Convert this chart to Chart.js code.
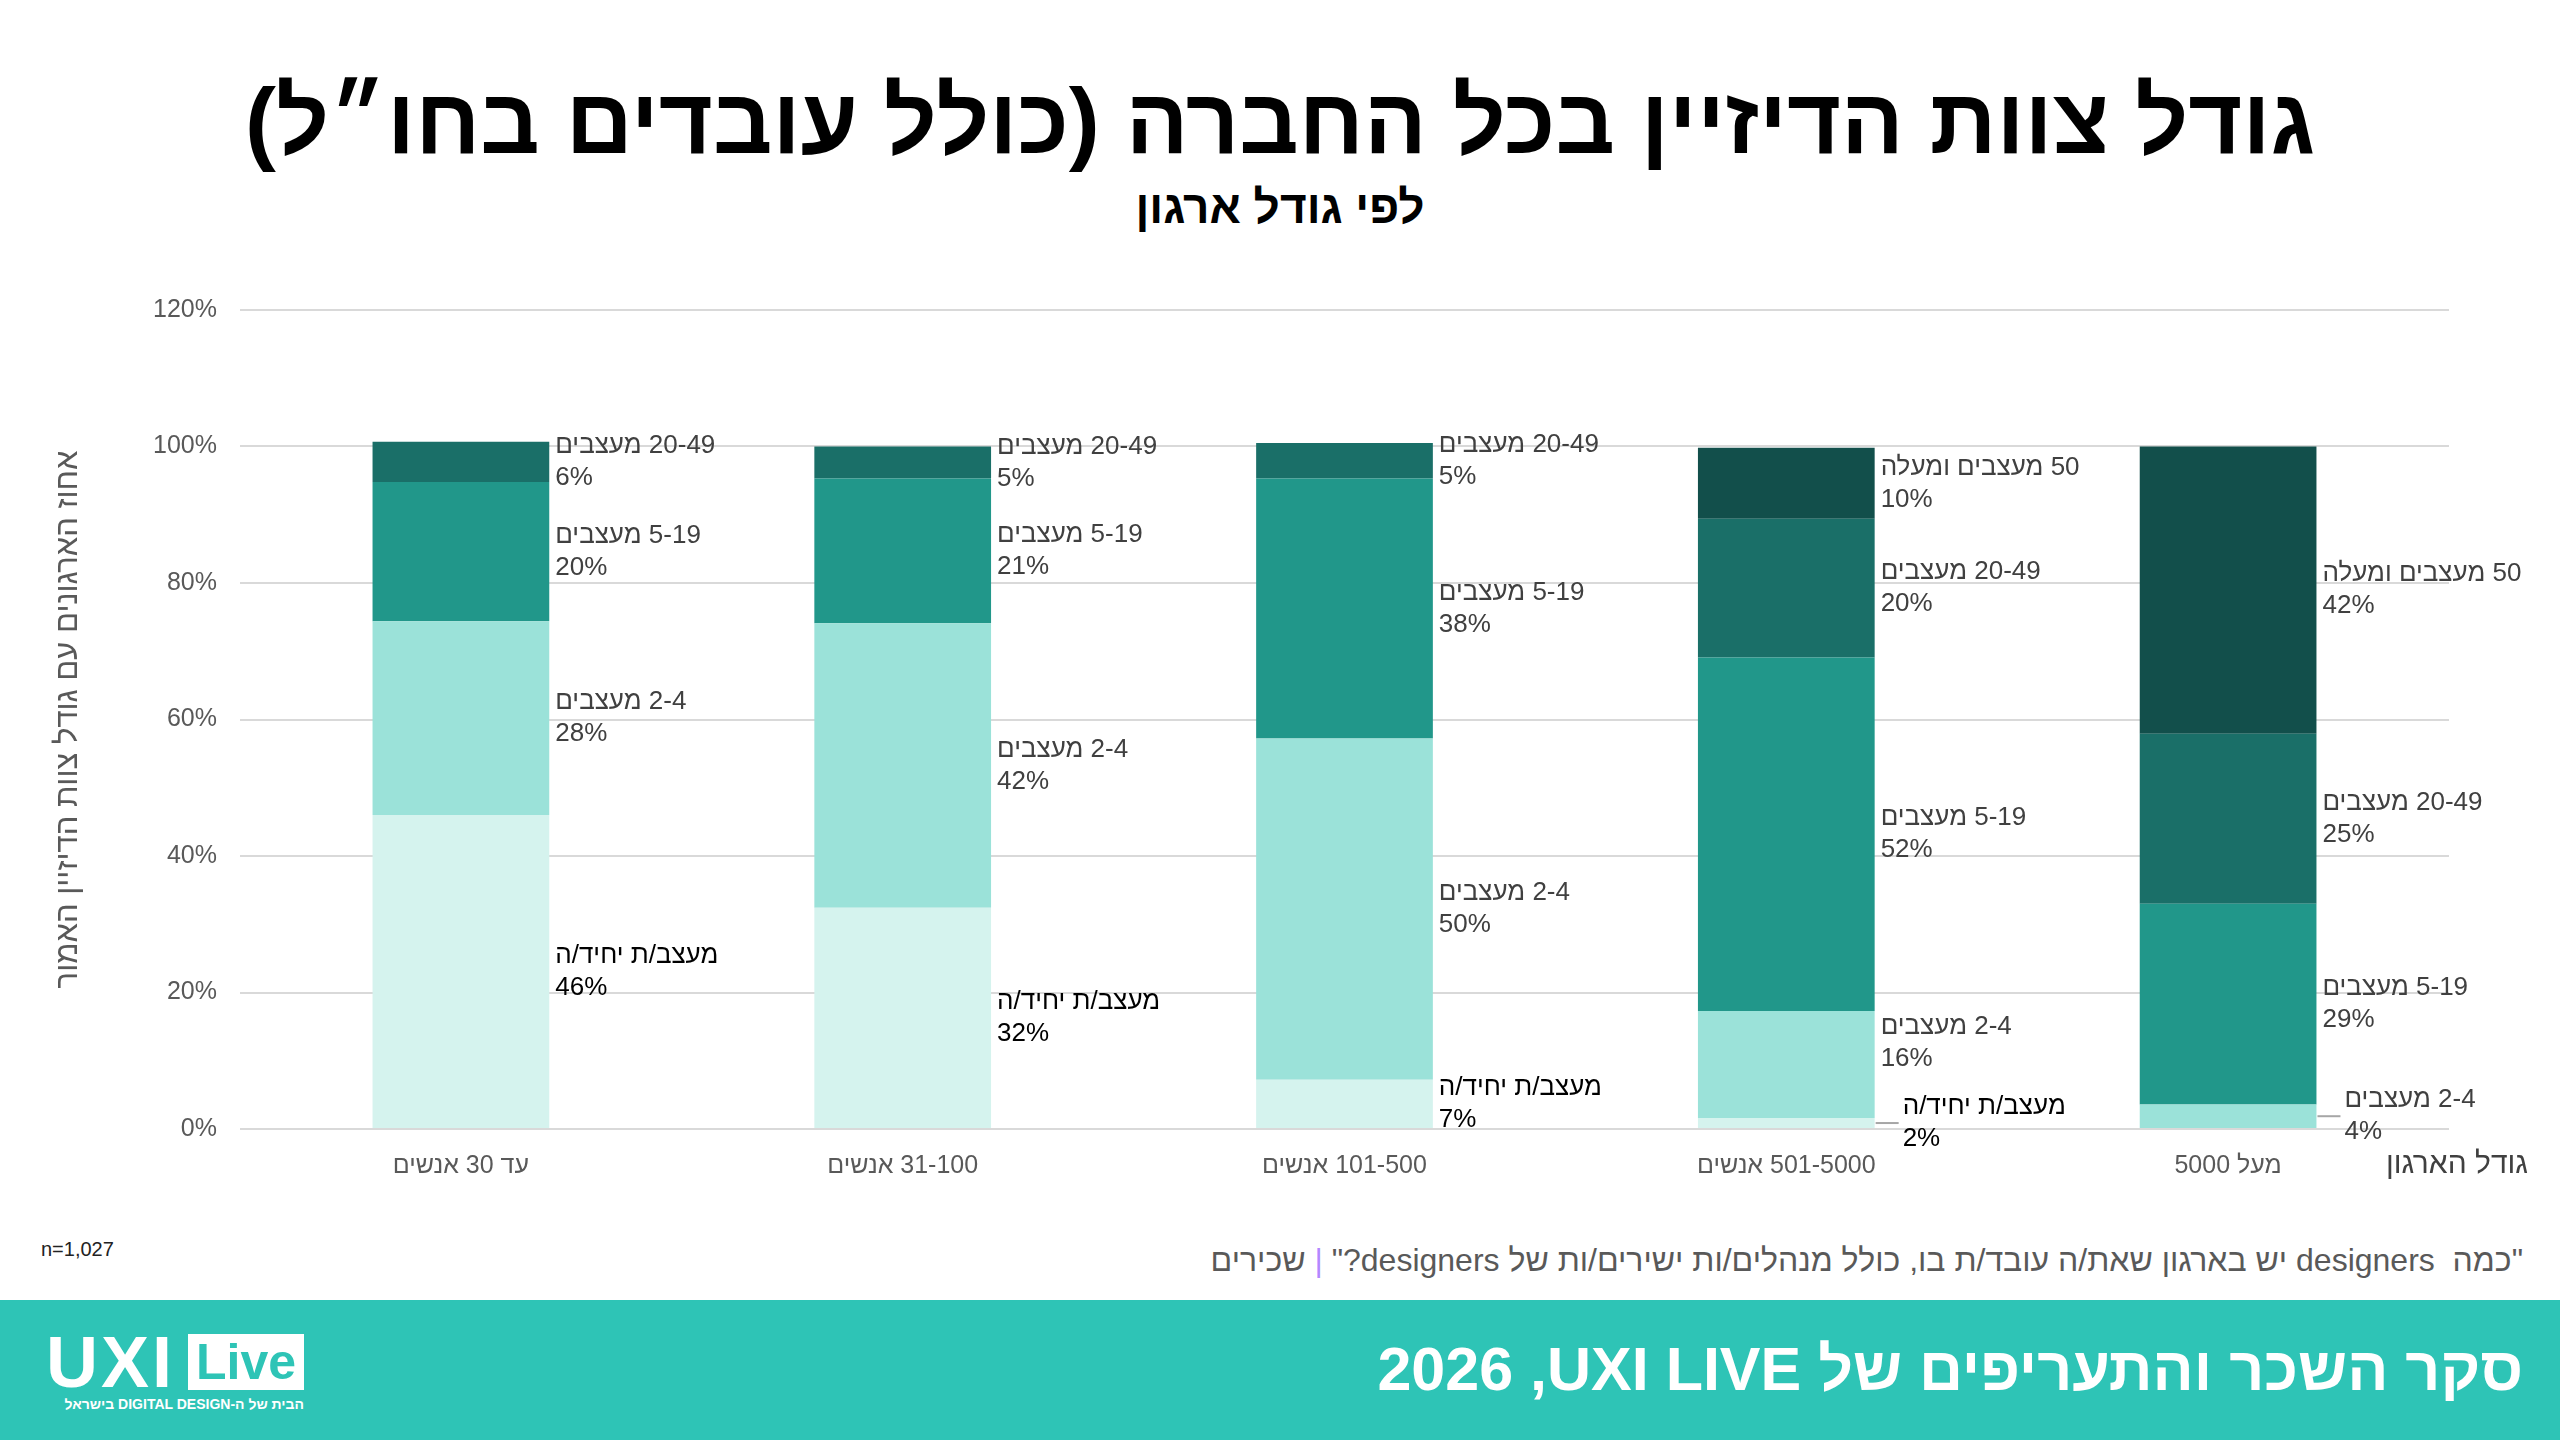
<!DOCTYPE html>
<html lang="he">
<head>
  <meta charset="UTF-8">
  <title>גודל צוות הדיזיין לפי גודל ארגון</title>
  <script src="https://cdn.jsdelivr.net/npm/chart.js"></script>
  <style>
    body {
      margin: 0;
      width: 2560px;
      height: 1440px;
      position: relative;
      background: #ffffff;
      font-family: 'Liberation Sans', 'DejaVu Sans', sans-serif;
      overflow: hidden;
    }
    .title {
      position: absolute;
      top: 68px;
      left: 0;
      width: 2560px;
      text-align: center;
      font-size: 93px;
      font-weight: bold;
      line-height: 106px;
      color: #000;
    }
    .subtitle {
      position: absolute;
      top: 180px;
      left: 0;
      width: 2560px;
      text-align: center;
      font-size: 46px;
      font-weight: bold;
      line-height: 54px;
      color: #000;
    }
    .chart-box {
      position: absolute;
      left: 0;
      top: 272px;
      width: 2560px;
      height: 928px;
    }
    .n-count {
      position: absolute;
      left: 41px;
      top: 1238px;
      font-size: 20px;
      color: #222;
    }
    .note {
      position: absolute;
      right: 37px;
      top: 1242px;
      font-size: 32px;
      color: #595959;
      white-space: pre;
    }
    .note .sep { color: #b388ff; }
    .footer {
      position: absolute;
      left: 0;
      top: 1300px;
      width: 2560px;
      height: 140px;
      background: #2ec4b6;
    }
    .logo {
      position: absolute;
      left: 46px;
      top: 34px;
      color: #fff;
    }
    .logo-row { display: flex; align-items: center; height: 56px; }
    .uxi {
      font-size: 72px;
      font-weight: 900;
      line-height: 56px;
      letter-spacing: 3px;
      width: 142px;
    }
    .live {
      background: #fff;
      color: #2ec4b6;
      font-size: 50px;
      font-weight: bold;
      line-height: 56px;
      padding: 0 8px;
      width: 100px;
      text-align: center;
    }
    .logo-sub {
      font-size: 14px;
      font-weight: bold;
      margin-top: 6px;
      width: 258px;
      text-align: justify;
    }
    .footer-title {
      position: absolute;
      right: 37px;
      top: 32px;
      font-size: 61px;
      font-weight: bold;
      line-height: 74px;
      color: #fff;
    }
  </style>
</head>
<body>
  <div class="title" dir="rtl">גודל צוות הדיזיין בכל החברה (כולל עובדים בחו״ל)</div>
  <div class="subtitle" dir="rtl">לפי גודל ארגון</div>
  <div class="chart-box"><canvas id="teamChart" width="2560" height="928" dir="rtl"></canvas></div>
  <div class="n-count">n=1,027</div>
  <div class="note" dir="rtl">"כמה  designers יש בארגון שאת/ה עובד/ת בו, כולל מנהלים/ות ישירים/ות של designers?" <span class="sep">|</span> שכירים</div>
  <div class="footer">
    <div class="logo">
      <div class="logo-row"><span class="uxi">UXI</span><span class="live">Live</span></div>
      <div class="logo-sub" dir="rtl">הבית של ה-DIGITAL DESIGN בישראל</div>
    </div>
    <div class="footer-title" dir="rtl">סקר השכר והתעריפים של UXI LIVE&#x200F;, 2026</div>
  </div>
  <script>
    // org size categories (x axis)
    const categories = ['עד 30 אנשים', '31-100 אנשים', '101-500 אנשים', '501-5000 אנשים', 'מעל 5000'];
    // team size series, bottom to top
    const seriesNames = ['מעצב/ת יחיד/ה', '2-4 מעצבים', '5-19 מעצבים', '20-49 מעצבים', '50 מעצבים ומעלה'];
    const soloDesigner = [46, 32.4, 7.2, 1.6, null];
    const team2to4 = [28.4, 41.7, 50.0, 15.7, 3.6];
    const team5to19 = [20.4, 21.2, 38.1, 51.8, 29.4];
    const team20to49 = [5.9, 4.7, 5.2, 20.3, 24.9];
    const team50plus = [null, null, null, 10.4, 42.1];
    const yTickMax = 120;
    const yTickStep = 20;
    const yTitle = 'אחוז הארגונים עם גודל צוות הדיזיין האמור';
    const xTitle = 'גודל הארגון';

    const seriesColors = ['#d5f3ee', '#9be2d9', '#21978a', '#1a6f68', '#124f4b'];
    const labelColors = ['#000000', '#404040', '#404040', '#404040', '#404040'];
    const FONT = "'Liberation Sans', 'DejaVu Sans', sans-serif";

    const allSeries = [soloDesigner, team2to4, team5to19, team20to49, team50plus];

    // labels to the right of each segment, pushed apart when they collide
    const segmentLabels = {
      id: 'segmentLabels',
      afterDatasetsDraw(chart) {
        const ctx = chart.ctx;
        const lineH = 32;
        const minGap = 80;
        ctx.save();
        ctx.direction = 'rtl';
        ctx.font = '26px ' + FONT;
        ctx.textAlign = 'left';
        ctx.textBaseline = 'middle';
        categories.forEach((cat, i) => {
          let items = [];
          chart.data.datasets.forEach((ds, d) => {
            const v = ds.data[i];
            if (v == null || v <= 0) return;
            const el = chart.getDatasetMeta(d).data[i];
            const top = Math.min(el.y, el.base);
            const bottom = Math.max(el.y, el.base);
            items.push({
              d: d,
              v: v,
              x: el.x + el.width / 2,
              segY: (top + bottom) / 2,
              segH: bottom - top,
              y: (top + bottom) / 2
            });
          });
          // bottom-up, keep each label above the previous one
          items.sort((a, b) => b.segY - a.segY);
          for (let k = 1; k < items.length; k++) {
            items[k].y = Math.min(items[k].y, items[k - 1].y - minGap);
          }
          items.forEach(it => {
            let tx = it.x + 6;
            if (it.segH < 30) {
              tx = it.x + 28;
              ctx.strokeStyle = '#a6a6a6';
              ctx.lineWidth = 2;
              ctx.beginPath();
              ctx.moveTo(it.x + 1, it.segY);
              ctx.lineTo(it.x + 12, it.y);
              ctx.lineTo(it.x + 24, it.y);
              ctx.stroke();
            }
            ctx.fillStyle = labelColors[it.d];
            ctx.fillText(seriesNames[it.d], tx, it.y - lineH / 2);
            ctx.fillText(Math.round(it.v) + '%', tx, it.y + lineH / 2);
          });
        });
        // x axis title, at the right end of the category labels
        ctx.font = '30px ' + FONT;
        ctx.fillStyle = '#404040';
        ctx.textAlign = 'right';
        ctx.fillText(xTitle, chart.chartArea.right + 79, chart.chartArea.bottom + 36);
        ctx.restore();
      }
    };

    new Chart(document.getElementById('teamChart').getContext('2d'), {
      type: 'bar',
      data: {
        labels: categories,
        datasets: allSeries.map((vals, d) => ({
          label: seriesNames[d],
          data: vals,
          backgroundColor: seriesColors[d],
          borderWidth: 0,
          barPercentage: 0.4,
          categoryPercentage: 1
        }))
      },
      options: {
        responsive: false,
        animation: false,
        layout: { padding: { top: 24, right: 111, bottom: 0, left: 0 } },
        plugins: {
          legend: { display: false },
          tooltip: { enabled: false }
        },
        scales: {
          x: {
            stacked: true,
            grid: { display: false },
            border: { display: false },
            ticks: {
              color: '#595959',
              font: { family: FONT, size: 25 },
              padding: 14,
              maxRotation: 0
            },
            afterFit: (scale) => { scale.height = 71; }
          },
          y: {
            stacked: true,
            min: 0,
            max: yTickMax,
            grid: { color: '#d9d9d9', lineWidth: 2, drawTicks: false },
            border: { display: false },
            ticks: {
              stepSize: yTickStep,
              color: '#595959',
              font: { family: FONT, size: 25 },
              padding: 23,
              callback: (v) => v + '%'
            },
            title: {
              display: true,
              text: yTitle,
              color: '#595959',
              font: { family: FONT, size: 31 },
              padding: { top: 50, bottom: 0 }
            },
            afterFit: (scale) => { scale.width = 240; }
          }
        }
      },
      plugins: [segmentLabels]
    });
  </script>
</body>
</html>
